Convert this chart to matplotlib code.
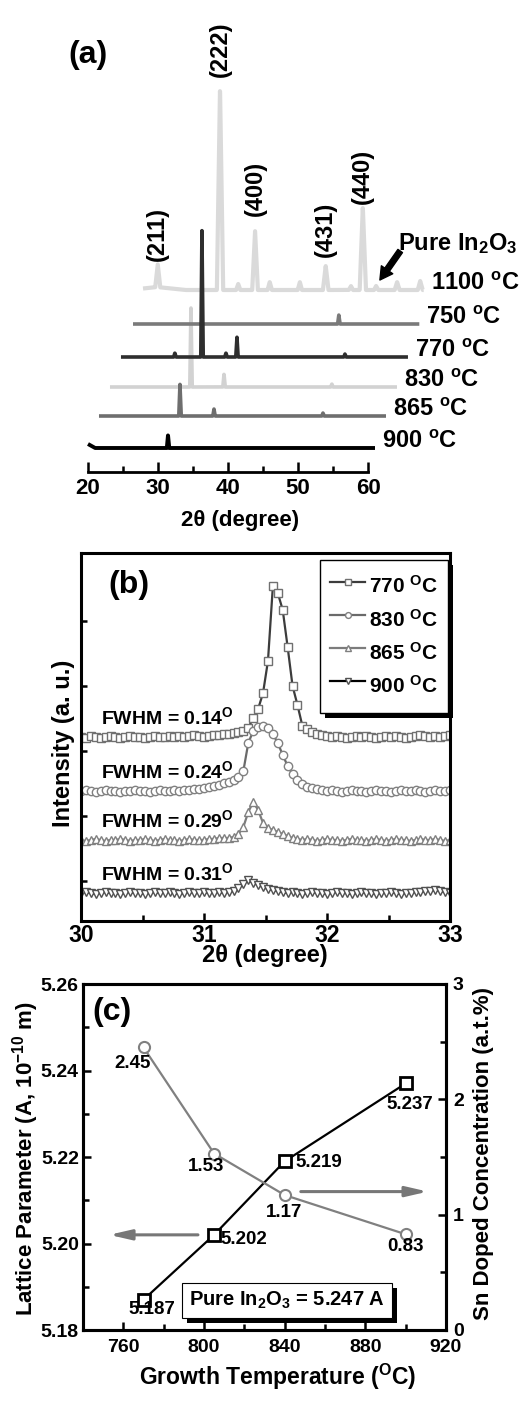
import numpy as np
import matplotlib
matplotlib.use('Agg')
import matplotlib.pyplot as plt
import matplotlib.patheffects as pe
from matplotlib.ticker import MultipleLocator, NullFormatter, FormatStrFormatter

plt.rcParams['font.family'] = ['Liberation Sans', 'DejaVu Sans']
plt.rcParams['font.weight'] = 'bold'
plt.rcParams['axes.labelweight'] = 'bold'
plt.rcParams['mathtext.fontset'] = 'custom'
plt.rcParams['mathtext.rm'] = 'Liberation Sans:bold'
plt.rcParams['mathtext.bf'] = 'Liberation Sans:bold'
plt.rcParams['mathtext.it'] = 'Liberation Sans:bold:italic'
plt.rcParams['mathtext.default'] = 'rm'

# ---------------- (a) XRD patterns, stacked with a sideways shift ----------------
a_temps = ['1100', '750', '770', '830', '865', '900']
a_shift = [7.86, 6.43, 4.71, 3.14, 1.57, 0.0]     # horizontal offset (deg)
a_base = [182, 148, 115, 85, 56, 24]              # vertical offset (a.u.)
a_end = [60.1, 60.9, 61.0, 61.0, 61.0, 61.0]      # last 2theta of each scan

# 1100 C (pure In2O3); first entry is the weak low-angle background hump
pk_1100 = [22.0, 22.1, 31.0, 33.6, 36.0, 38.1, 42.4, 46.1, 49.7, 51.4, 53.3, 56.3, 59.6]
h_1100 = [3, 26, 202, 6, 60, 8, 8, 24, 4, 83, 4, 8, 9]
w_1100 = [4.0, 0.4, 0.45, 0.3, 0.4, 0.3, 0.3, 0.4, 0.3, 0.45, 0.3, 0.35, 0.35]
pk_750 = [49.4]
h_750 = [9]
pk_770 = [27.7, 31.57, 35.0, 36.57, 52.0]
h_770 = [4, 128, 4, 20, 3]
pk_830 = [31.57, 36.29, 51.7]
h_830 = [80, 13, 3]
pk_865 = [31.57, 36.43, 52.0]
h_865 = [32, 7, 3]
pk_900 = [20.0, 31.43]
h_900 = [4, 13]

a_peaks = [pk_1100, pk_750, pk_770, pk_830, pk_865, pk_900]
a_heights = [h_1100, h_750, h_770, h_830, h_865, h_900]

hkl_labels = ['(211)', '(222)', '(400)', '(431)', '(440)']
hkl_index = [1, 2, 4, 7, 9]          # which 1100 peak each label belongs to

# ---------------- (b) zoom on the (222) peak ----------------
b_start, b_step = 30.0, 0.04
b_temps = ['770', '830', '865', '900']
b_fwhm = ['0.14', '0.24', '0.29', '0.31']
b_base = [184, 130, 81, 28]

i770 = [184, 183, 185, 184, 183, 184, 185, 184, 183, 184,
        185, 184, 184, 183, 184, 185, 184, 184, 185, 184,
        185, 184, 185, 186, 185, 184, 185, 186, 186, 187,
        187, 188, 189, 190, 193, 203, 212, 228, 260, 335,
        328, 311, 274, 235, 216, 195, 192, 189, 187, 186,
        185, 184, 185, 184, 183, 184, 185, 184, 185, 184,
        183, 184, 185, 184, 185, 184, 183, 184, 185, 186,
        185, 184, 185, 184, 185, 186]
i830 = [130, 131, 130, 129, 130, 131, 130, 130, 129, 130,
        130, 131, 130, 130, 129, 130, 131, 130, 130, 131,
        130, 131, 131, 132, 132, 133, 134, 135, 136, 138,
        139, 141, 144, 150, 178, 190, 194, 195, 193, 187,
        178, 166, 155, 147, 141, 137, 134, 133, 132, 131,
        130, 131, 130, 129, 130, 131, 130, 130, 129, 130,
        131, 130, 130, 129, 130, 131, 130, 130, 131, 130,
        129, 130, 131, 130, 130, 131]
i865 = [81, 80, 81, 82, 81, 80, 81, 81, 82, 81,
        80, 81, 81, 82, 81, 80, 81, 82, 81, 81,
        80, 81, 82, 81, 81, 81, 82, 82, 83, 83,
        83, 84, 87, 94, 109, 119, 111, 98, 93, 91,
        89, 87, 85, 83, 82, 81, 82, 81, 80, 81,
        82, 81, 81, 80, 81, 82, 81, 81, 80, 81,
        82, 81, 80, 81, 82, 81, 81, 80, 81, 82,
        81, 81, 82, 81, 80, 81]
i900 = [28, 29, 28, 27, 28, 29, 28, 28, 27, 28,
        29, 28, 28, 27, 28, 29, 28, 28, 29, 28,
        27, 28, 29, 28, 28, 29, 28, 28, 29, 28,
        29, 30, 33, 37, 41, 38, 36, 34, 32, 31,
        30, 29, 28, 29, 28, 27, 28, 29, 28, 28,
        27, 28, 29, 28, 28, 27, 28, 29, 28, 28,
        27, 28, 28, 29, 28, 27, 28, 28, 29, 29,
        30, 30, 31, 30, 29, 28]
b_series = [i770, i830, i865, i900]

# ---------------- (c) lattice parameter and Sn content ----------------
c_temp = [770, 805, 840, 900]
c_lattice = [5.187, 5.202, 5.219, 5.237]
c_sn = [2.45, 1.53, 1.17, 0.83]


def stick_pattern(peaks, heights, widths, end):
    # background-free stick pattern; each reflection drawn as a narrow spike
    xs = np.linspace(20.0, end, 2000)
    ys = np.zeros_like(xs)
    for p, h, w in zip(peaks, heights, widths):
        ys = np.maximum(ys, np.clip(h * (1 - np.abs(xs - p) / w), 0, None))
    return xs, ys


fig = plt.figure(figsize=(5.24, 14.07), dpi=100)
W, H = 524.0, 1407.0

# ===== panel (a) =====
ax = fig.add_axes([88 / W, 1 - 472 / H, 280 / W, 472 / H])
a_colors = ['#dadada', '#7a7a7a', '#2e2e2e', '#d2d2d2', '#6e6e6e', '#000000']
a_lw = [3.0, 2.6, 2.6, 2.6, 2.6, 2.8]
a_z = [1, 3, 4, 2, 3, 5]
for k, t in enumerate(a_temps):
    widths = w_1100 if k == 0 else [1.0 if p < 21 else 0.17 for p in a_peaks[k]]
    x, y = stick_pattern(a_peaks[k], a_heights[k], widths, a_end[k])
    ax.plot(x + a_shift[k], y + a_base[k], color=a_colors[k], lw=a_lw[k],
            solid_joinstyle='round', solid_capstyle='butt', zorder=a_z[k],
            clip_on=False)
    ax.annotate(t + r' $^{o}$C', xy=(a_end[k] + a_shift[k], a_base[k]),
                xytext=(7, 0), textcoords='offset pixels', fontsize=17,
                ha='left', va='baseline', annotation_clip=False)

label_gap = [3, 11, 14, 9, 3]
for lab, idx, gap in zip(hkl_labels, hkl_index, label_gap):
    ax.annotate(lab, xy=(pk_1100[idx] + a_shift[0], h_1100[idx] + a_base[0]),
                xytext=(0, gap), textcoords='offset pixels', rotation=90,
                fontsize=17, ha='center', va='bottom', annotation_clip=False)

ax.annotate('', xy=(61.7, 192), xytext=(64.6, 221),
            arrowprops=dict(arrowstyle='simple,head_length=0.9,head_width=1.0,tail_width=0.4',
                            color='black', shrinkA=0, shrinkB=0),
            annotation_clip=False)
ax.text(64.3, 222, r'Pure In$_2$O$_3$', fontsize=17, ha='left', va='baseline',
        clip_on=False)
ax.text(-0.071, 0.883, '(a)', transform=ax.transAxes, fontsize=23,
        ha='left', va='center')

ax.set_xlim(20, 60)
ax.set_ylim(0, 472)
for s in ['left', 'right', 'top']:
    ax.spines[s].set_visible(False)
ax.spines['bottom'].set_linewidth(2)
ax.set_yticks([])
ax.xaxis.set_major_locator(MultipleLocator(10))
ax.xaxis.set_minor_locator(MultipleLocator(5))
ax.tick_params(axis='x', which='major', direction='in', length=7, width=1.8,
               labelsize=16, pad=4)
ax.tick_params(axis='x', which='minor', direction='in', length=4, width=1.8)
ax.set_xlabel('2θ (degree)', fontsize=16)
ax.xaxis.set_label_coords(0.543, -0.08)
ax.patch.set_alpha(0)

# ===== panel (b) =====
bx = fig.add_axes([81 / W, 1 - 921 / H, 369 / W, 368 / H])
b_markers = ['s', 'o', '^', 'v']
b_line = ['#3c3c3c', '#6a6a6a', '#7c7c7c', '#000000']
b_edge = ['#707070', '#808080', '#808080', '#505050']
for k, t in enumerate(b_temps):
    yv = np.array(b_series[k], dtype=float)
    xv = b_start + b_step * np.arange(len(yv))
    bx.plot(xv, yv, color=b_line[k], lw=1.6, marker=b_markers[k], ms=6,
            mfc='white', mec=b_edge[k], mew=1.0, label=t + r' $^{O}$C')
    bx.annotate('FWHM = ' + b_fwhm[k] + r'$^{O}$', xy=(30.16, b_base[k]),
                xytext=(0, 13), textcoords='offset pixels', fontsize=14,
                ha='left', va='baseline')

leg = bx.legend(loc='upper right', bbox_to_anchor=(0.995, 0.981),
                borderaxespad=0, fontsize=15, handlelength=1.7,
                handleheight=2.0, handletextpad=0.15, labelspacing=0.05,
                borderpad=0.5, markerscale=0.7, fancybox=False,
                framealpha=1, edgecolor='black')
leg.get_frame().set_linewidth(1.0)
leg.get_frame().set_path_effects([pe.SimplePatchShadow(offset=(3.6, -3.6),
                                  shadow_rgbFace='black', alpha=1.0), pe.Normal()])

bx.text(0.073, 0.913, '(b)', transform=bx.transAxes, fontsize=23,
        ha='left', va='center')
bx.set_xlim(30, 33)
bx.set_ylim(0, 368)
for s in bx.spines.values():
    s.set_linewidth(2.2)
bx.xaxis.set_major_locator(MultipleLocator(1))
bx.xaxis.set_minor_locator(MultipleLocator(0.5))
bx.set_yticks([40, 105, 170, 235, 300])
bx.yaxis.set_major_formatter(NullFormatter())
bx.tick_params(axis='x', which='major', direction='in', length=6, width=1.8,
               labelsize=16.5, pad=2, top=False)
bx.tick_params(axis='x', which='minor', direction='in', length=4, width=1.8,
               top=False)
bx.tick_params(axis='y', which='major', direction='in', length=4, width=1.8,
               right=False)
bx.set_xlabel('2θ (degree)', fontsize=17)
bx.xaxis.set_label_coords(0.497, -0.062)
bx.set_ylabel('Intensity (a. u.)', fontsize=17)
bx.yaxis.set_label_coords(-0.016, 0.484)

# ===== panel (c) =====
cx = fig.add_axes([83 / W, 1 - 1330 / H, 363 / W, 346 / H])
cx2 = cx.twinx()
cx.plot(c_temp, c_lattice, color='black', lw=1.6, marker='s', ms=8,
        mfc='white', mec='black', mew=2.0, zorder=4)
cx2.plot(c_temp, c_sn, color='#808080', lw=1.6, marker='o', ms=8,
         mfc='white', mec='#808080', mew=1.5, zorder=3)

lat_off = [(8, -10), (30, -5), (34, -1), (4, -21)]
sn_off = [(-11, -16), (-8, -13), (-1, -17), (0, -12)]
for xv, yv, off in zip(c_temp, c_lattice, lat_off):
    cx.annotate(f'{yv:.3f}', xy=(xv, yv), xytext=off, textcoords='offset pixels',
                fontsize=13.5, ha='center', va='center', zorder=6)
for xv, yv, off in zip(c_temp, c_sn, sn_off):
    cx2.annotate(f'{yv:.2f}', xy=(xv, yv), xytext=off, textcoords='offset pixels',
                 fontsize=13.5, ha='center', va='center', zorder=6)

cx.annotate('', xy=(753, 5.202), xytext=(797, 5.202),
            arrowprops=dict(arrowstyle='-|>,head_length=1.3,head_width=0.3',
                            color='#777777', lw=2.2, mutation_scale=10,
                            shrinkA=0, shrinkB=0))
cx2.annotate('', xy=(911, 1.2), xytext=(848, 1.2),
             arrowprops=dict(arrowstyle='-|>,head_length=1.3,head_width=0.3',
                             color='#777777', lw=2.2, mutation_scale=10,
                             shrinkA=0, shrinkB=0))

box = cx.text(841, 5.1868, r'Pure In$_2$O$_3$ = 5.247 A', fontsize=14.5,
              ha='center', va='center', zorder=7,
              bbox=dict(boxstyle='square,pad=0.35', fc='white', ec='black', lw=0.8))
box.get_bbox_patch().set_path_effects([pe.SimplePatchShadow(offset=(3.6, -3.6),
                                       shadow_rgbFace='black', alpha=1.0), pe.Normal()])

cx.text(0.025, 0.919, '(c)', transform=cx.transAxes, fontsize=23,
        ha='left', va='center', zorder=8)

cx.set_xlim(740, 920)
cx.set_ylim(5.18, 5.26)
cx2.set_ylim(0, 3)
for a in (cx, cx2):
    for s in a.spines.values():
        s.set_linewidth(2.2)
cx.xaxis.set_major_locator(MultipleLocator(40))
cx.xaxis.set_minor_locator(MultipleLocator(20))
cx.yaxis.set_major_locator(MultipleLocator(0.02))
cx.yaxis.set_minor_locator(MultipleLocator(0.01))
cx.yaxis.set_major_formatter(FormatStrFormatter('%.2f'))
cx2.yaxis.set_major_locator(MultipleLocator(1))
cx2.yaxis.set_minor_locator(MultipleLocator(0.5))
cx.tick_params(axis='y', which='major', direction='in', length=6, width=1.8,
               labelsize=14, pad=3)
cx.tick_params(axis='x', which='major', direction='in', length=6, width=1.8,
               labelsize=14, pad=6.5, top=False)
cx.tick_params(axis='both', which='minor', direction='in', length=4, width=1.8,
               top=False)
cx2.tick_params(axis='y', which='major', direction='in', length=6, width=1.8,
                labelsize=14, pad=5)
cx2.tick_params(axis='y', which='minor', direction='in', length=4, width=1.8)

cx.set_xlabel(r'Growth Temperature ($^{O}$C)', fontsize=16.5)
cx.xaxis.set_label_coords(0.536, -0.092)
cx.set_ylabel(r'Lattice Parameter (A, 10$^{-10}$ m)', fontsize=16)
cx.yaxis.set_label_coords(-0.116, 0.497)
cx2.set_ylabel('Sn Doped Concentration (a.t.%)', fontsize=16)
cx2.yaxis.set_label_coords(1.074, 0.509)

fig.savefig('out.png', dpi=100)
